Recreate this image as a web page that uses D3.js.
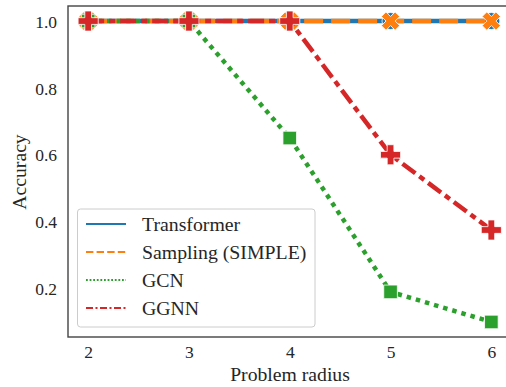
<!DOCTYPE html>
<html><head><meta charset="utf-8">
<script src="https://cdn.jsdelivr.net/npm/d3@7"></script>
<style>body{margin:0;background:#fff}svg{display:block}</style>
</head><body>
<script>
const radii = [2, 3, 4, 5, 6];
const transformer = [1.0, 1.0, 1.0, 1.0, 1.0];
const sampling = [1.0, 1.0, 1.0, 1.0, 1.0];
const gcn = [1.0, 1.0, 0.65, 0.19, 0.10];
const ggnn = [1.0, 1.0, 1.0, 0.60, 0.375];
const yTicks = [0.2, 0.4, 0.6, 0.8, 1.0];
const seriesNames = ["Transformer", "Sampling (SIMPLE)", "GCN", "GGNN"];

const W = 506, H = 387;
const svg = d3.select("body").append("svg").attr("width", W).attr("height", H);
const font = "'Liberation Serif','DejaVu Serif',serif";
const mL = 68, mT = 6, mB = 337, mR = 511.5;

const x = d3.scaleLinear().domain([1.8, 6.2]).range([mL, mR]);
const y = d3.scaleLinear().domain([0.055, 1.045]).range([mB, mT]);

const series = [
  {name: seriesNames[0], vals: transformer, color: "#1f77b4", dash: null, ldash: null, sym: "circle"},
  {name: seriesNames[1], vals: sampling, color: "#ff7f0e", dash: "19,8", ldash: "7.4,3.2", sym: "x"},
  {name: seriesNames[2], vals: gcn, color: "#2ca02c", dash: "4.5,5", ldash: "1.8,1.8", sym: "square"},
  {name: seriesNames[3], vals: ggnn, color: "#d62728", dash: "16,5,6,5", ldash: "7,2.5,2,2.5", sym: "plus"}
];

svg.append("defs").append("clipPath").attr("id", "clip")
  .append("rect").attr("x", mL).attr("y", mT).attr("width", mR - mL).attr("height", mB - mT);

// axes ticks
const yAxis = d3.axisLeft(y).tickValues(yTicks).tickSize(0).tickPadding(11).tickFormat(d3.format(".1f"));
const gy = svg.append("g").attr("transform", `translate(${mL},0)`).call(yAxis);
gy.select(".domain").remove();
gy.selectAll("text").attr("font-family", font).attr("font-size", 17.5).attr("fill", "#262626").attr("dy", "0.35em");

const xAxis = d3.axisBottom(x).tickValues(radii).tickSize(0).tickPadding(9).tickFormat(d3.format("d"));
const gx = svg.append("g").attr("transform", `translate(0,${mB})`).call(xAxis);
gx.select(".domain").remove();
gx.selectAll("text").attr("font-family", font).attr("font-size", 17.5).attr("fill", "#262626");

// lines and markers
const plot = svg.append("g").attr("clip-path", "url(#clip)");
const line = d3.line().x((d, i) => x(radii[i])).y(d => y(d));
function symPath(s) {
  if (s === "circle") return d3.symbol(d3.symbolCircle, 230)();
  if (s === "square") return d3.symbol(d3.symbolSquare, 185)();
  if (s === "plus") return d3.symbol(d3.symbolCross, 225)();
  if (s === "x") return d3.symbol(d3.symbolCross, 210)();
}
series.forEach(s => {
  plot.append("path").datum(s.vals).attr("d", line)
    .attr("fill", "none").attr("stroke", s.color).attr("stroke-width", 4.5)
    .attr("stroke-dasharray", s.dash).attr("stroke-linecap", "butt");
  plot.selectAll(null).data(s.vals).enter().append("path")
    .attr("d", symPath(s.sym))
    .attr("transform", (d, i) => `translate(${x(radii[i])},${y(d)})` + (s.sym === "x" ? " rotate(45)" : ""))
    .attr("fill", s.color).attr("stroke", "#fff").attr("stroke-width", 0.8);
});

// spines
svg.append("rect").attr("x", mL).attr("y", mT).attr("width", mR - mL).attr("height", mB - mT)
  .attr("fill", "none").attr("stroke", "#444").attr("stroke-width", 1.4);

// axis labels
svg.append("text").attr("x", 290).attr("y", 381)
  .attr("text-anchor", "middle").attr("font-family", font).attr("font-size", 19.7).attr("fill", "#262626")
  .text("Problem radius");
svg.append("text").attr("transform", "translate(26,172) rotate(-90)")
  .attr("text-anchor", "middle").attr("font-family", font).attr("font-size", 19.7).attr("fill", "#262626")
  .text("Accuracy");

// legend
const lg = svg.append("g");
lg.append("rect").attr("x", 77.5).attr("y", 209).attr("width", 237.5).attr("height", 118)
  .attr("rx", 3).attr("fill", "#fff").attr("fill-opacity", 0.8).attr("stroke", "#cccccc").attr("stroke-width", 1);
const ly = d3.scalePoint().domain(seriesNames).range([224, 308]);
series.forEach(s => {
  const yy = ly(s.name);
  lg.append("line").attr("x1", 86).attr("x2", 126).attr("y1", yy).attr("y2", yy)
    .attr("stroke", s.color).attr("stroke-width", 2).attr("stroke-dasharray", s.ldash);
  lg.append("text").attr("x", 142).attr("y", yy).attr("dy", "0.35em")
    .attr("font-family", font).attr("font-size", 19.8).attr("fill", "#262626").text(s.name);
});
</script>
</body></html>
